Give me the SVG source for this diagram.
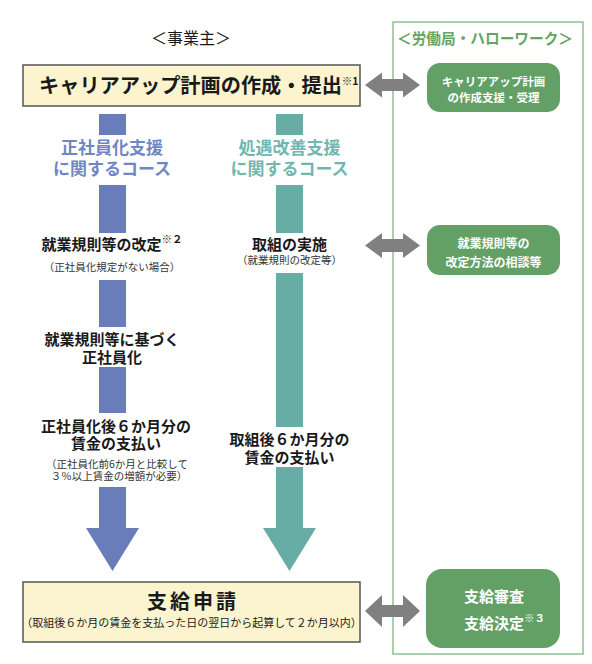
<svg xmlns="http://www.w3.org/2000/svg" width="592" height="664" viewBox="0 0 592 664">
<style>
text{font-family:"Noto Sans CJK JP","Noto Sans CJK SC",sans-serif;}
.b{font-weight:bold;}
.dk{fill:#1a1a1a;}
.box{fill:#fcf4cf;stroke:#555555;stroke-width:1.5;}
.gbox{fill:#63a066;}
.wt{fill:#ffffff;font-weight:bold;}
.dbl{fill:#808080;}
.blue{fill:#6a7dbb;}
.teal{fill:#68aca6;}
.bh{fill:#7087c6;font-weight:bold;font-size:17px;text-anchor:middle;}
.th{fill:#6fb7af;font-weight:bold;font-size:17px;text-anchor:middle;}
.m15{font-size:15px;font-weight:bold;fill:#1a1a1a;text-anchor:middle;}
.s10{font-size:10.5px;fill:#333333;text-anchor:middle;}
.sup{font-size:10.5px;}
</style>
<g id="header-employer"><text x="191" y="44" class="dk" font-size="16" text-anchor="middle">＜事業主＞</text></g>
<g id="frame-office">
<rect x="393" y="22" width="190" height="632" fill="none" stroke="#8fc08f" stroke-width="1.5"/>
<text x="397" y="44" font-size="15" class="b" fill="#64a566" textLength="176" lengthAdjust="spacingAndGlyphs">＜労働局・ハローワーク＞</text>
</g>
<g id="connectors">
<path class="dbl" d="M365,85 L382,72.5 L382,79 L403,79 L403,72.5 L420,85 L403,97.5 L403,91 L382,91 L382,97.5 Z"/>
<path class="dbl" d="M365,245.5 L382,233 L382,239 L403,239 L403,233 L420,245.5 L403,258 L403,252 L382,252 L382,258 Z"/>
<path class="dbl" d="M365,611 L382,595 L382,605 L403,605 L403,595 L420,611 L403,627 L403,617 L382,617 L382,627 Z"/>
<g id="flow-blue">
<rect class="blue" x="99" y="114" width="27" height="21"/>
<rect class="blue" x="99" y="185" width="27" height="48"/>
<rect class="blue" x="99" y="280" width="27" height="47"/>
<rect class="blue" x="99" y="367" width="27" height="46"/>
<rect class="blue" x="99" y="487" width="27" height="42"/>
<polygon class="blue" points="86,528 139,528 112.5,571"/>
</g>
<g id="flow-teal">
<rect class="teal" x="276" y="114" width="27" height="21"/>
<rect class="teal" x="276" y="185" width="27" height="48"/>
<rect class="teal" x="276" y="273" width="27" height="154"/>
<rect class="teal" x="276" y="467" width="27" height="62"/>
<polygon class="teal" points="263,528 316,528 289.5,571"/>
</g>
</g>
<g id="node-plan">
<rect class="box" x="23" y="65" width="337" height="41"/>
<text x="39" y="93" class="b dk" font-size="20.2">キャリアアップ計画の作成・提出<tspan class="sup" dy="-8">※1</tspan></text>
</g>
<g id="node-office-plan">
<rect class="gbox" x="427" y="63" width="133" height="49" rx="13"/>
<text x="493.5" y="85.5" class="wt" font-size="11.5" text-anchor="middle">キャリアアップ計画</text>
<text x="493.5" y="101.5" class="wt" font-size="11.5" text-anchor="middle">の作成支援・受理</text>
</g>
<g id="head-blue">
<text x="112" y="153.5" class="bh">正社員化支援</text>
<text x="112" y="174.5" class="bh">に関するコース</text>
</g>
<g id="head-teal">
<text x="289.5" y="153.5" class="th">処遇改善支援</text>
<text x="289.5" y="174.5" class="th">に関するコース</text>
</g>
<g id="node-rules">
<text x="112" y="249.5" class="m15">就業規則等の改定<tspan class="sup" dy="-7">※２</tspan></text>
<text x="112" y="271" class="s10">（正社員化規定がない場合）</text>
</g>
<g id="node-implement">
<text x="289.5" y="249.5" class="m15">取組の実施</text>
<text x="289.5" y="264" class="s10">（就業規則の改定等）</text>
</g>
<g id="node-convert">
<text x="112" y="344.5" class="m15">就業規則等に基づく</text>
<text x="112" y="362.5" class="m15">正社員化</text>
</g>
<g id="node-pay-blue">
<text x="116" y="431.5" class="m15">正社員化後６か月分の</text>
<text x="116" y="449" class="m15">賃金の支払い</text>
<text x="117" y="467.5" class="s10">（正社員化前6か月と比較して</text>
<text x="119" y="479.5" class="s10">３％以上賃金の増額が必要）</text>
</g>
<g id="node-pay-teal">
<text x="289.5" y="444.5" class="m15">取組後６か月分の</text>
<text x="289.5" y="462.5" class="m15">賃金の支払い</text>
</g>
<g id="node-office-rules">
<rect class="gbox" x="427" y="225" width="133" height="50" rx="13"/>
<text x="493.5" y="247.5" class="wt" font-size="12" text-anchor="middle">就業規則等の</text>
<text x="493.5" y="266.5" class="wt" font-size="12" text-anchor="middle">改定方法の相談等</text>
</g>
<g id="node-apply">
<rect class="box" x="23" y="582" width="337" height="60"/>
<text x="147" y="608.5" class="b dk" font-size="20" letter-spacing="3">支給申請</text>
<text x="191.5" y="627" font-size="11" fill="#222222" text-anchor="middle">（取組後６か月の賃金を支払った日の翌日から起算して２か月以内）</text>
</g>
<g id="node-office-decide">
<rect class="gbox" x="426" y="569" width="134" height="79" rx="16"/>
<text x="464" y="601.5" class="wt" font-size="15">支給審査</text>
<text x="464" y="628.5" class="wt" font-size="15">支給決定<tspan font-size="10.5" dy="-7">※３</tspan></text>
</g>
</svg>
